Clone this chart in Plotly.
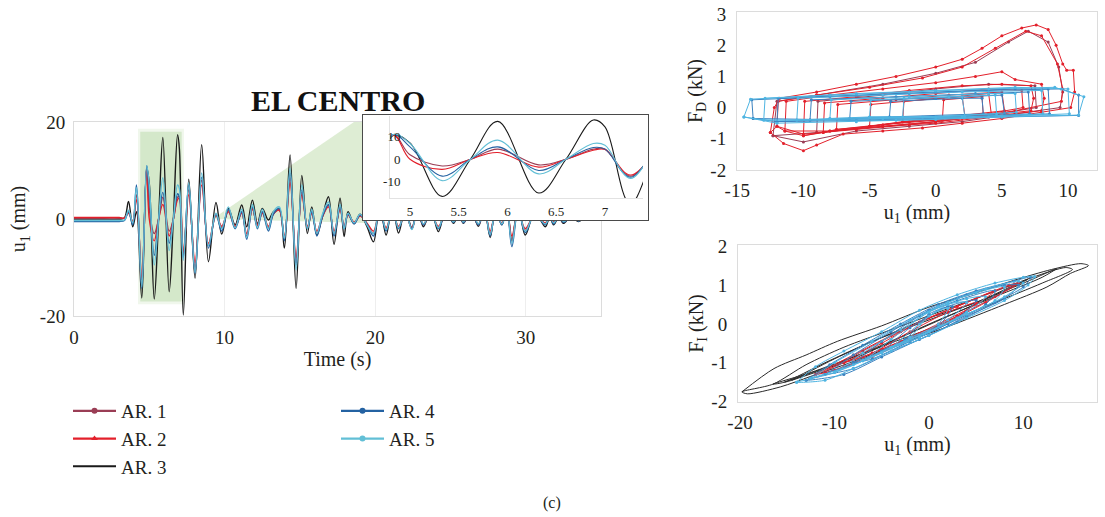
import plotly.graph_objects as go

W, H = 1105, 517
FONT = "Liberation Serif"
INK = "#231f20"

# ---------------- time history u1 (control points) ----------------
time_s = [0, 1, 2, 3, 3.35, 3.62, 3.9, 4.15, 4.5, 4.83,
          5.0, 5.33, 5.62, 5.9, 6.32, 6.6, 6.88, 7.0, 7.26, 7.62, 8.04,
          8.48, 8.93, 9.43, 9.81, 10.25, 10.7, 11.14, 11.47, 11.85, 12.18,
          12.51, 12.91, 13.24, 13.64, 13.97, 14.35, 14.75, 15.13, 15.5, 15.79,
          16.13, 16.5, 16.9, 17.27, 17.67, 17.94, 18.2, 18.6, 19.0, 19.45,
          19.89, 20.3, 20.73, 21.15, 21.55, 22.0, 22.44, 22.8, 23.21, 23.7,
          24.2, 24.7, 25.2, 25.55, 25.87, 26.35, 26.86, 27.25, 27.64, 28.0,
          28.42, 28.75, 29.08, 29.5, 29.97, 30.6, 31.3, 31.6, 31.85, 32.2,
          32.5, 33.0, 33.5, 34.0, 34.5]

u_ar1 = [0.2, 0.2, 0.2, 0.2, 0.2, 1.4, -0.6, 5, -12.5, 10.8,
         2, -3, 0, 4.5, -2.5, 0, 4.5, 4.6, -7.5, 6, -10,
         8, -5.5, 0.8, -1.8, 1.8, -1.6, 1.4, -3.5, 2.2, -1.4,
         1.4, -1.8, 1, 2, -4, 8.5, -9, 5.5, -1.8, 1.4,
         -3, 0.5, 2.8, -3, 2.2, -1.8, 0.9, -0.8, 0.7, -1,
         -3, 1.8, -2, 1.8, -1.8, 1.2, -2, 1.4, -1.2, 1.4,
         -1.8, 1.4, -0.6, 1, -0.7, 1.4, -1.2, 1.8, -3, 1.4,
         -1, 1.8, -4.5, 1.8, -2.4, 0.9, -1, 0.4, -0.8, 0.4,
         -0.6, 0.3, -0.3, 0.1, 0]

u_ar2 = [0.3, 0.3, 0.3, 0.3, 0.2, 1.2, -0.5, 4, -12, 10.8,
         0, -4.5, 0, 3, -3.5, 0, 4, 4.3, -7, 5, -9,
         7, -5, 0.8, -1.5, 1.5, -1.5, 1.2, -3, 2, -1.2,
         1.2, -1.5, 1, 1.8, -3.5, 7.5, -8, 5, -1.5, 1.2,
         -2.5, 0.5, 2.5, -2.5, 2, -1.5, 0.8, -0.6, 0.6, -0.8,
         -2.5, 1.5, -1.8, 1.5, -1.5, 1, -1.8, 1.2, -1, 1.2,
         -1.5, 1.2, -0.5, 0.8, -0.6, 1.2, -1, 1.5, -2.5, 1.2,
         -0.8, 1.5, -3.5, 1.5, -2, 0.8, -0.8, 0.4, -0.6, 0.4,
         -0.5, 0.3, -0.2, 0.1, 0]

u_ar3 = [0, 0, 0, 0, 0.2, 3.6, -1.6, 1.5, -16.3, 10.5,
         7.3, -16.5, 0, 16.8, -15, 0, 17.4, 14.4, -19.8, 8.2, -12.2,
         15.3, -8.8, 3.4, -3.1, 2.2, -1.2, 2.9, -1.6, 3.9, -0.9,
         2.2, -0.2, 1.5, 1.9, -6, 13.2, -14.3, 9, -3, 2.5,
         -3.3, 0.5, 4.6, -5.2, 4.3, -3.6, 1.5, -1, 1, -1.5,
         -4.7, 3, -3.3, 3, -2.9, 2, -1.9, 2, -1.6, 2,
         -2.6, 2, -0.9, 1, -0.9, 2, -1.5, 2.5, -3.8, 2,
         -1.2, 2.5, -4.5, 3, -3.3, 1.5, -1.6, 0.5, -1.2, 0.5,
         -0.9, 0.5, -0.5, 0.3, 0]

u_ar4 = [-0.5, -0.5, -0.5, -0.5, -0.3, 1.5, -1.2, 7, -14.3, 11,
         5.5, -7.5, 0, 5.5, -5, 0, 5.2, 4.5, -8, 7, -11.2,
         8.6, -6, 1, -2.5, 2, -2, 1.5, -4.2, 2.5, -2,
         1.5, -2.5, 1, 2.2, -4.5, 9.5, -9.5, 6, -2, 1.5,
         -3.5, 0.5, 3, -3.5, 2.5, -2, 1, -1, 0.8, -1,
         -3.5, 2, -2.5, 2, -2, 1.5, -2, 1.5, -1.2, 1.5,
         -2, 1.5, -0.7, 1, -0.8, 1.5, -1.2, 2, -3.5, 1.5,
         -1.2, 2, -5.7, 2, -2.8, 1, -1.2, 0.5, -1, 0.5,
         -0.7, 0.3, -0.4, 0.2, 0]

u_ar5 = [-0.3, -0.3, -0.3, -0.3, -0.2, 1.8, -0.8, 6.5, -14, 11,
         7, -9.5, 0, 8.5, -6.5, 0, 7, 6.2, -8.5, 7.5, -11,
         9.5, -5.5, 1.2, -2, 2.5, -1.8, 2, -3.8, 3, -1.8,
         2, -2, 1.5, 2.5, -4, 10.5, -10.5, 7, -2, 2,
         -3, 1, 3.5, -3, 3, -2, 1.2, -0.8, 1, -1.2,
         -3, 2.5, -2.2, 2, -1.8, 1.5, -2.2, 1.8, -1, 1.5,
         -1.8, 2, -0.6, 1.2, -0.6, 1.8, -1, 2, -3.2, 1.5,
         -1, 2, -5, 2.2, -2.5, 1, -1, 0.5, -0.8, 0.5,
         -0.5, 0.3, -0.3, 0.2, 0]

# ---------------- damper force F_D vs u1 (loops) ----------------
fd_ar1 = [(-12.3, -0.9), (-12, 0.2), (-9, 0.4), (-4, 0.75), (0, 1.1), (3, 1.45), (5.5, 2.1), (7, 2.45),
          (8.5, 2.1), (9.3, 1.3), (9.6, 0.5), (9.4, 0.0), (6, -0.2), (2, -0.45), (-2, -0.6), (-6, -0.75),
          (-10, -1.1), (-12.3, -0.9),
          (-9, -0.8), (-8.9, 0.2), (-4, 0.4), (0, 0.6), (4, 0.75), (7.5, 0.7), (7.6, 0.0), (4, -0.25),
          (0, -0.45), (-4, -0.6), (-9, -0.8)]

fd_ar2 = [(-12.5, -0.8), (-12.2, 0.0), (-11.8, 0.3), (-9, 0.5), (-6, 0.75), (-3, 1.0), (0, 1.3), (2, 1.55),
          (3.5, 1.9), (5, 2.3), (6.5, 2.55), (7.6, 2.65), (8.5, 2.5), (9.1, 2.0), (9.6, 1.4), (9.9, 1.2),
          (10.4, 1.2), (10.5, 0.5), (10.2, 0.0), (8, -0.15), (5, -0.35), (2, -0.5), (-1, -0.65), (-4, -0.75),
          (-7, -0.85), (-9, -1.2), (-10, -1.38), (-11.5, -1.15), (-12.5, -0.8),
          (-12, -0.6), (-11.9, 0.2), (-9, 0.4), (-5, 0.65), (-1, 0.95), (2, 1.3), (4.5, 1.9), (6.8, 2.45),
          (8, 2.3), (9.2, 1.4), (9.6, 0.6), (9.5, 0.2), (6, -0.1), (2, -0.35), (-2, -0.55), (-6, -0.7),
          (-10, -0.85), (-12, -0.6),
          (-11.4, -0.75), (-11.3, 0.2), (-8, 0.4), (-4, 0.6), (0, 0.8), (3, 1.0), (5, 1.15), (6, 0.9),
          (8, 0.75), (8.2, 0.3), (8, -0.1), (4, -0.3), (0, -0.5), (-4, -0.6), (-8, -0.75), (-11.4, -0.75),
          (-10, -0.9), (-9.9, 0.2), (-6, 0.35), (-2, 0.55), (2, 0.7), (5, 0.75), (7.2, 0.7), (7.4, 0.3),
          (7.2, -0.1), (4, -0.25), (0, -0.45), (-4, -0.6), (-8, -0.75), (-10, -0.9),
          (-8.5, -0.8), (-8.4, 0.15), (-4, 0.3), (0, 0.45), (4, 0.6), (6.5, 0.55), (6.6, 0.0), (4, -0.2),
          (0, -0.4), (-4, -0.55), (-8.5, -0.8),
          (-7.5, -0.7), (-7.4, 0.1), (-3, 0.25), (1, 0.4), (5, 0.5), (5.2, -0.1), (2, -0.25), (-2, -0.45),
          (-7.5, -0.7),
          (-5, -0.6), (-4.9, 0.1), (0, 0.3), (4, 0.45), (4.2, -0.2), (0, -0.35), (-5, -0.6),
          (-2.5, -0.45), (-2.4, 0.2), (2, 0.35), (2.2, -0.25), (-2.5, -0.45),
          (0.5, -0.4), (0.6, 0.25), (3.5, 0.35), (3.6, -0.3), (0.5, -0.4)]

fd_ar4 = [(-13.8, -0.35), (-13.9, 0.25), (-8, 0.35), (-2, 0.45), (4, 0.55), (9.5, 0.6), (10.8, 0.4),
          (10.8, -0.25), (5, -0.3), (0, -0.35), (-6, -0.4), (-13.8, -0.35),
          (-12, -0.45), (-11.9, 0.3), (-6, 0.4), (0, 0.5), (6, 0.6), (8.5, 0.6), (8.6, -0.2), (3, -0.3),
          (-3, -0.4), (-12, -0.45),
          (-9.5, -0.4), (-9.4, 0.25), (-3, 0.35), (3, 0.45), (7, 0.5), (7.1, -0.2), (2, -0.3), (-4, -0.35),
          (-9.5, -0.4),
          (-6.5, -0.35), (-6.4, 0.2), (0, 0.3), (5, 0.4), (5.2, -0.2), (0, -0.3), (-6.5, -0.35),
          (-3.5, -0.3), (-3.4, 0.2), (2, 0.3), (3.5, 0.3), (3.6, -0.2), (-3.5, -0.3)]

fd_ar5 = [(-14.5, -0.3), (-14.0, 0.27), (-8, 0.4), (-2, 0.5), (4, 0.6), (9, 0.65), (11.2, 0.35),
          (10.8, -0.24), (5, -0.3), (0, -0.38), (-6, -0.45), (-12, -0.5), (-14.5, -0.3),
          (-13, -0.4), (-12.9, 0.3), (-6, 0.45), (0, 0.55), (6, 0.65), (10, 0.6), (10.1, -0.2), (4, -0.3),
          (-3, -0.4), (-13, -0.4),
          (-10.5, -0.4), (-10.4, 0.3), (-4, 0.4), (2, 0.5), (8, 0.55), (8.1, -0.2), (2, -0.3), (-4, -0.35),
          (-10.5, -0.4),
          (-8, -0.35), (-7.9, 0.25), (-2, 0.35), (4, 0.45), (6, 0.45), (6.1, -0.15), (0, -0.3), (-8, -0.35),
          (-5, -0.3), (-4.9, 0.25), (1, 0.35), (4.5, 0.4), (4.6, -0.2), (-1, -0.3), (-5, -0.3),
          (-2.5, -0.3), (-2.4, 0.3), (2, 0.35), (2.2, -0.3), (-2.5, -0.3)]

# ---------------- isolator force F_I vs u1 (loops) ----------------
fi_ar1 = [(-11, -1.25), (-7, -0.7), (-3, -0.2), (1, 0.25), (5, 0.65), (9, 1.0), (7, 0.7), (3, 0.2),
          (-1, -0.25), (-5, -0.7), (-9, -1.1), (-11, -1.25)]

fi_ar2 = [(-12, -1.3), (-8, -0.8), (-4, -0.3), (0, 0.15), (4, 0.55), (8.5, 1.0), (9.5, 1.05), (6, 0.55),
          (2, 0.05), (-2, -0.4), (-6, -0.85), (-10, -1.2), (-12, -1.3),
          (-9, -1.0), (-5, -0.5), (-1, 0.05), (3, 0.45), (7, 0.85), (5, 0.5), (1, 0.0), (-3, -0.45),
          (-7, -0.85), (-9, -1.0),
          (-6, -0.75), (-2, -0.2), (2, 0.3), (5, 0.55), (3, 0.2), (-1, -0.25), (-5, -0.65), (-6, -0.75)]

fi_ar3 = [(-19.8, -1.75), (-16.4, -1.15), (-13, -0.8), (-9.7, -0.45), (-5, -0.05), (0, 0.43), (5, 0.8),
          (9, 1.12), (13, 1.4), (16.1, 1.55), (16.9, 1.5), (15, 1.3), (12.5, 0.95), (8, 0.5), (1.9, -0.08),
          (-3, -0.5), (-8.7, -1.03), (-12.5, -1.35), (-15.7, -1.62), (-19.2, -1.8), (-19.8, -1.75),
          (-16.5, -1.55), (-13, -1.05), (-9, -0.6), (-4, -0.15), (1, 0.3), (6, 0.75), (11, 1.2),
          (14.5, 1.45), (15.2, 1.4), (12, 1.05), (7, 0.55), (2, 0.05), (-3, -0.4), (-8, -0.85),
          (-12.5, -1.25), (-16.5, -1.55),
          (-15.3, -1.5), (-11, -1.0), (-6, -0.45), (0, 0.1), (6, 0.65), (10.5, 1.1), (13.5, 1.42),
          (12, 1.2), (7, 0.7), (1, 0.1), (-5, -0.55), (-10, -1.05), (-15.3, -1.5),
          (-14.5, -1.45), (-10, -0.9), (-5, -0.35), (0, 0.15), (5, 0.55), (9.5, 1.05), (10.5, 1.15),
          (8, 0.85), (3, 0.3), (-3, -0.35), (-8, -0.9), (-14.5, -1.45)]

fi_ar4 = [(-13, -1.45), (-10.5, -1.05), (-7, -0.55), (-3, 0.0), (1, 0.5), (5, 0.85), (9, 1.1), (10.8, 1.2),
          (10, 0.95), (7, 0.55), (3, 0.05), (-1, -0.4), (-5, -0.85), (-9, -1.3), (-13, -1.45),
          (-11, -1.3), (-8, -0.8), (-4, -0.2), (0, 0.35), (4, 0.75), (8, 1.0), (9.5, 1.0), (8, 0.65),
          (4, 0.2), (0, -0.3), (-4, -0.7), (-8, -1.15), (-11, -1.3),
          (-8, -1.0), (-5, -0.45), (-1, 0.2), (3, 0.6), (7, 0.85), (6, 0.5), (2, 0.0), (-2, -0.45),
          (-6, -0.9), (-8, -1.0),
          (-5, -0.7), (-2, -0.1), (2, 0.45), (5, 0.6), (3, 0.15), (-1, -0.35), (-5, -0.7),
          (-2.5, -0.4), (0, 0.25), (2.5, 0.45), (1, -0.05), (-2.5, -0.4)]

fi_ar5 = [(-14, -1.5), (-12, -1.1), (-9, -0.7), (-5, -0.2), (-1, 0.35), (3, 0.75), (7, 1.05), (10, 1.2),
          (11.2, 1.22), (10.5, 1.0), (8, 0.6), (4, 0.15), (0, -0.3), (-4, -0.7), (-8, -1.15), (-11, -1.45),
          (-14, -1.5),
          (-12.5, -1.4), (-10, -1.0), (-6, -0.45), (-2, 0.1), (2, 0.55), (6, 0.9), (9.5, 1.1), (10, 1.05),
          (8, 0.7), (4, 0.25), (0, -0.2), (-4, -0.6), (-8, -1.05), (-12.5, -1.4),
          (-10, -1.25), (-7, -0.75), (-3, -0.15), (1, 0.45), (5, 0.8), (8, 0.95), (7, 0.6), (3, 0.15),
          (-1, -0.3), (-5, -0.75), (-10, -1.25),
          (-7, -0.95), (-4, -0.4), (0, 0.3), (4, 0.65), (6, 0.7), (4, 0.3), (0, -0.2), (-4, -0.6),
          (-7, -0.95),
          (-4, -0.6), (-1, 0.0), (2, 0.5), (4, 0.55), (2, 0.1), (-1, -0.35), (-4, -0.6),
          (-2, -0.35), (0, 0.2), (2, 0.4), (1, 0.0), (-2, -0.35)]

# ---------------- styling ----------------
names = ["AR. 1", "AR. 2", "AR. 3", "AR. 4", "AR. 5"]
colors = {"AR. 1": "#9a3d55", "AR. 2": "#e3202b", "AR. 3": "#1a1a1a",
          "AR. 4": "#2462a2", "AR. 5": "#62bfd6"}
symbols = {"AR. 1": "circle", "AR. 2": "triangle-up", "AR. 3": None,
           "AR. 4": "circle", "AR. 5": "circle"}
hyst_colors = {"AR. 1": "#9a3d55", "AR. 2": "#e3202b", "AR. 3": "#2a2a2a",
               "AR. 4": "#3a82c0", "AR. 5": "#4fb5e2"}

series_u = {"AR. 1": u_ar1, "AR. 2": u_ar2, "AR. 3": u_ar3, "AR. 4": u_ar4, "AR. 5": u_ar5}
fd_loops = {"AR. 1": fd_ar1, "AR. 2": fd_ar2, "AR. 4": fd_ar4, "AR. 5": fd_ar5}
fi_loops = {"AR. 3": fi_ar3, "AR. 1": fi_ar1, "AR. 2": fi_ar2, "AR. 4": fi_ar4, "AR. 5": fi_ar5}

main_xticks = [0, 10, 20, 30]
main_yticks = [-20, 0, 20]
inset_xticks = [5, 5.5, 6, 6.5, 7]
inset_yticks = [-10, 0, 10]
fd_xticks = [-15, -10, -5, 0, 5, 10]
fd_yticks = [-2, -1, 0, 1, 2, 3]
fi_xticks = [-20, -10, 0, 10]
fi_yticks = [-2, -1, 0, 1, 2]


def lab(vals):
    return [f"{v:g}" for v in vals]


def xd(a, b):
    return [a / W, b / W]


def yd(top, bottom):
    return [1 - bottom / H, 1 - top / H]


fig = go.Figure()

draw_order = ["AR. 3", "AR. 1", "AR. 2", "AR. 4", "AR. 5"]
# main time history
for nm in draw_order:
    fig.add_trace(go.Scatter(x=time_s, y=series_u[nm], mode="lines",
                             line=dict(color=colors[nm], width=1.4, shape="spline", smoothing=1.0),
                             xaxis="x", yaxis="y", showlegend=False, hoverinfo="skip"))
# inset frame subplot (empty)
fig.add_trace(go.Scatter(x=[None], y=[None], xaxis="x2", yaxis="y2", showlegend=False, hoverinfo="skip"))
# inset zoom
for nm in draw_order:
    fig.add_trace(go.Scatter(x=time_s, y=series_u[nm], mode="lines",
                             line=dict(color=colors[nm], width=1.1, shape="spline", smoothing=1.0),
                             xaxis="x3", yaxis="y3", showlegend=False, hoverinfo="skip"))
# F_D hysteresis
for nm, pts in fd_loops.items():
    fig.add_trace(go.Scatter(x=[p[0] for p in pts], y=[p[1] for p in pts], mode="lines+markers",
                             line=dict(color=hyst_colors[nm], width=1),
                             marker=dict(size=3, color=hyst_colors[nm]),
                             xaxis="x4", yaxis="y4", showlegend=False, hoverinfo="skip"))
# F_I hysteresis
for nm, pts in fi_loops.items():
    mk = "lines" if nm == "AR. 3" else "lines+markers"
    fig.add_trace(go.Scatter(x=[p[0] for p in pts], y=[p[1] for p in pts], mode=mk,
                             line=dict(color=hyst_colors[nm], width=1, shape="spline", smoothing=0.8),
                             marker=dict(size=3, color=hyst_colors[nm]),
                             xaxis="x5", yaxis="y5", showlegend=False, hoverinfo="skip"))
# legend entries
for i, nm in enumerate(names):
    m = dict(size=6, color=colors[nm], symbol=symbols[nm]) if symbols[nm] else None
    fig.add_trace(go.Scatter(x=[None], y=[None], name=nm,
                             mode="lines+markers" if m else "lines",
                             line=dict(color=colors[nm], width=2.2),
                             marker=m, xaxis="x", yaxis="y",
                             legend="legend" if i < 3 else "legend2", legendrank=i + 1))

tickfont = dict(family=FONT, size=19, color=INK)
titlefont = dict(family=FONT, size=20, color=INK)
frame = dict(showline=True, mirror=True, linecolor="#dcdcdc", linewidth=1, ticks="",
             zeroline=False, tickfont=tickfont)

fig.update_layout(
    width=W, height=H, template="none",
    paper_bgcolor="white", plot_bgcolor="white",
    margin=dict(l=0, r=0, t=0, b=0),
    font=dict(family=FONT, color=INK),
    xaxis=dict(domain=xd(74, 601), range=[0, 35], tickvals=main_xticks, ticktext=lab(main_xticks),
               showgrid=True, gridcolor="#eeeeee", ticklabelstandoff=4,
               title=dict(text="Time (s)", font=titlefont, standoff=4), **frame),
    yaxis=dict(domain=yd(122, 316), range=[-20, 20], tickvals=main_yticks, ticktext=lab(main_yticks),
               showgrid=False, ticklabelstandoff=4,
               title=dict(text="u<sub>1</sub> (mm)", font=titlefont, standoff=8), **frame),
    xaxis2=dict(domain=xd(363, 648), range=[0, 1], anchor="y2", showline=True, mirror=True,
                linecolor="#4a4a4a", linewidth=1.3, showticklabels=False, showgrid=False,
                zeroline=False, ticks=""),
    yaxis2=dict(domain=yd(115, 220), range=[0, 1], anchor="x2", showline=True, mirror=True,
                linecolor="#4a4a4a", linewidth=1.3, showticklabels=False, showgrid=False,
                zeroline=False, ticks=""),
    xaxis3=dict(domain=xd(390, 643), range=[4.795, 7.39], anchor="y3",
                tickvals=inset_xticks, ticktext=lab(inset_xticks), showline=True, linecolor="#e2e2e2",
                showgrid=False, zeroline=False, ticks="", ticklabelstandoff=1,
                tickfont=dict(family=FONT, size=13, color=INK)),
    yaxis3=dict(domain=yd(116, 198), range=[-17.2, 19.2], anchor="x3",
                tickvals=inset_yticks, ticktext=lab(inset_yticks), showline=True, linecolor="#e2e2e2",
                showgrid=False, zeroline=False, ticks="", ticklabelstandoff=-14,
                tickfont=dict(family=FONT, size=13, color=INK)),
    xaxis4=dict(domain=xd(737, 1097), range=[-15.02, 12.19], anchor="y4",
                tickvals=fd_xticks, ticktext=lab(fd_xticks), showgrid=False, ticklabelstandoff=3,
                title=dict(text="u<sub>1</sub> (mm)", font=titlefont, standoff=0), **frame),
    yaxis4=dict(domain=yd(12, 170), range=[-2.0, 3.064], anchor="x4",
                tickvals=fd_yticks, ticktext=lab(fd_yticks), showgrid=False, ticklabelstandoff=6,
                title=dict(text="F<sub>D</sub> (kN)", font=titlefont, standoff=2), **frame),
    xaxis5=dict(domain=xd(738, 1097), range=[-20.21, 17.8], anchor="y5",
                tickvals=fi_xticks, ticktext=lab(fi_xticks), showgrid=False, ticklabelstandoff=3,
                title=dict(text="u<sub>1</sub> (mm)", font=titlefont, standoff=0), **frame),
    yaxis5=dict(domain=yd(245, 402), range=[-2.01, 2.03], anchor="x5",
                tickvals=fi_yticks, ticktext=lab(fi_yticks), showgrid=False, ticklabelstandoff=6,
                title=dict(text="F<sub>I</sub> (kN)", font=titlefont, standoff=2), **frame),
    legend=dict(x=68 / W, y=1 - 392 / H, xanchor="left", yanchor="top", bgcolor="rgba(0,0,0,0)",
                font=dict(family=FONT, size=19, color=INK), itemwidth=43, tracegroupgap=0),
    legend2=dict(x=336 / W, y=1 - 392 / H, xanchor="left", yanchor="top", bgcolor="rgba(0,0,0,0)",
                 font=dict(family=FONT, size=19, color=INK), itemwidth=43, tracegroupgap=0),
    annotations=[
        dict(text="<b>EL CENTRO</b>", x=338 / W, y=1 - 100 / H, xref="paper", yref="paper",
             showarrow=False, xanchor="center", yanchor="middle",
             font=dict(family=FONT, size=30, color="#111111")),
        dict(text="(c)", x=552 / W, y=1 - 503 / H, xref="paper", yref="paper",
             showarrow=False, xanchor="center", yanchor="middle",
             font=dict(family=FONT, size=16, color=INK)),
    ],
)

# green highlight of the zoomed window and the connector wedge to the inset
ZOOM_T = (4.4, 7.15)
ZOOM_U = (-17, 18)
WEDGE_APEX = (9.2, 0)
WEDGE_END_T = 19.3
fig.add_shape(type="rect", xref="x", yref="y", x0=ZOOM_T[0] - 0.15, x1=ZOOM_T[1] + 0.15,
              y0=ZOOM_U[0] - 0.6, y1=ZOOM_U[1] + 0.6, fillcolor="rgba(185,218,170,0.22)",
              line=dict(width=0), layer="below")
fig.add_shape(type="rect", xref="x", yref="y", x0=ZOOM_T[0], x1=ZOOM_T[1],
              y0=ZOOM_U[0], y1=ZOOM_U[1], fillcolor="rgba(175,212,155,0.42)",
              line=dict(width=0), layer="below")
fig.add_shape(type="path", xref="x", yref="y",
              path=f"M {WEDGE_APEX[0]},{WEDGE_APEX[1]} L {WEDGE_END_T},21.5 L {WEDGE_END_T},-0.8 Z",
              fillcolor="rgba(190,220,170,0.5)", line=dict(width=0), layer="below")

fig.write_html("out.html")
